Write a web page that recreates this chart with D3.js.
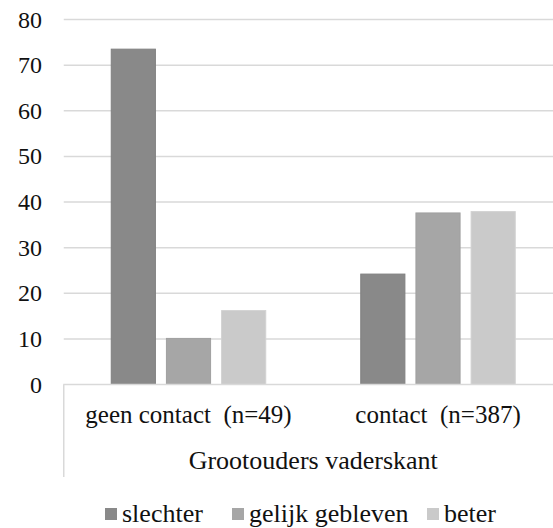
<!DOCTYPE html>
<html>
<head>
<meta charset="utf-8">
<script src="https://cdn.jsdelivr.net/npm/d3@7"></script>
<style>
  html, body { margin: 0; padding: 0; background: #fff; }
  svg { display: block; }
  text { font-family: "Liberation Serif", "DejaVu Serif", serif; fill: #111; }
</style>
</head>
<body>
<svg id="chart" width="553" height="528"></svg>
<script>
const categories = ["geen contact  (n=49)", "contact  (n=387)"];
const seriesNames = ["slechter", "gelijk gebleven", "beter"];
const slechter = [73.5, 24.2];
const gelijkGebleven = [10.1, 37.6];
const beter = [16.2, 37.9];
const yTicks = [0, 10, 20, 30, 40, 50, 60, 70, 80];
const axisTitle = "Grootouders vaderskant";
const colors = ["#898989", "#a6a6a6", "#cacaca"];
const strokes = ["#808080", "#a0a0a0", "#d2d2d2"];

const seriesValues = [slechter, gelijkGebleven, beter];
const data = categories.map((c, i) => ({
  cat: c,
  vals: seriesNames.map((s, j) => ({ key: s, idx: j, value: seriesValues[j][i] }))
}));

const svg = d3.select("#chart");
const plotLeft = 63.75, plotRight = 562.75, plotTop = 19.5, plotBottom = 384.5;

const x0 = d3.scaleBand().domain(categories).range([plotLeft, plotRight]).padding(0);
const groupPad = 47.5;
const x1 = d3.scaleBand().domain(seriesNames)
  .range([groupPad, x0.bandwidth() - groupPad]).paddingInner(0.2).paddingOuter(0);
const y = d3.scaleLinear().domain([0, 80]).range([plotBottom, plotTop]);

// gridlines
svg.append("g").selectAll("line").data(yTicks.filter(t => t > 0)).join("line")
  .attr("x1", plotLeft).attr("x2", 553)
  .attr("y1", d => y(d)).attr("y2", d => y(d))
  .attr("stroke", "#d9d9d9").attr("stroke-width", 1.5);

// y tick labels
svg.append("g").selectAll("text").data(yTicks).join("text")
  .attr("x", 42).attr("y", d => y(d))
  .attr("text-anchor", "end").attr("dominant-baseline", "central")
  .attr("font-size", 24)
  .text(d => d);

// bars
const groups = svg.append("g").selectAll("g").data(data).join("g")
  .attr("transform", d => `translate(${x0(d.cat)},0)`);
groups.selectAll("rect").data(d => d.vals).join("rect")
  .attr("x", d => x1(d.key)).attr("width", x1.bandwidth())
  .attr("y", d => y(d.value)).attr("height", d => y(0) - y(d.value))
  .attr("fill", d => colors[d.idx])
  .attr("stroke", d => strokes[d.idx]).attr("stroke-width", 1);

// axis frame (multi-level category axis)
const frame = svg.append("g").attr("stroke", "#d9d9d9").attr("stroke-width", 1.5).attr("fill", "none");
frame.append("line").attr("x1", plotLeft - 0.5).attr("x2", 553).attr("y1", y(0)).attr("y2", y(0));
frame.append("line").attr("x1", plotLeft).attr("x2", plotLeft).attr("y1", y(0)).attr("y2", 477);
frame.append("line").attr("x1", plotRight).attr("x2", plotRight).attr("y1", y(0)).attr("y2", 477);

// category labels
svg.append("g").selectAll("text").data(categories).join("text")
  .attr("x", d => x0(d) + x0.bandwidth() / 2).attr("y", 423)
  .attr("text-anchor", "middle").attr("font-size", 25)
  .attr("xml:space", "preserve").style("white-space", "pre")
  .text(d => d);

svg.append("text")
  .attr("x", (plotLeft + plotRight) / 2).attr("y", 469)
  .attr("text-anchor", "middle").attr("font-size", 26)
  .text(axisTitle);

// legend
const legendX = [105, 232, 427];
const leg = svg.append("g").selectAll("g").data(seriesNames).join("g")
  .attr("transform", (d, i) => `translate(${legendX[i]},508)`);
leg.append("rect").attr("width", 12).attr("height", 12)
  .attr("fill", (d, i) => colors[i]);
leg.append("text").attr("x", 17).attr("y", 13.5).attr("font-size", 26).text(d => d);
</script>
</body>
</html>
